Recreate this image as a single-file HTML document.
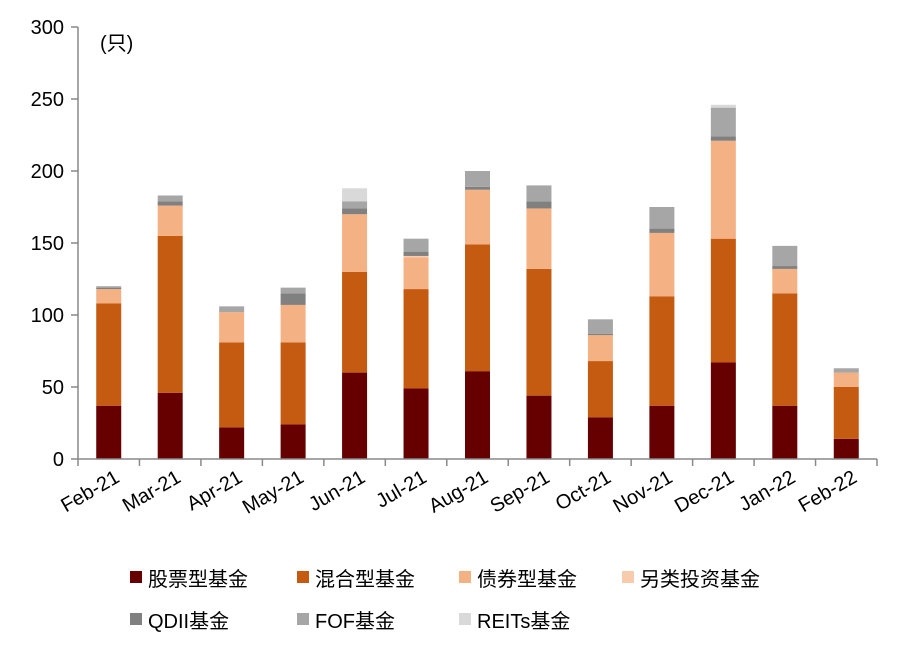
<!DOCTYPE html>
<html><head><meta charset="utf-8"><style>
body{margin:0;background:#fff;width:899px;height:652px;overflow:hidden}
svg text{font-family:"Liberation Sans","Noto Sans CJK SC",sans-serif;fill:#000}
</style></head><body>
<svg id="chart" width="899" height="652" xmlns="http://www.w3.org/2000/svg">
<text x="100" y="50" font-size="20">(只)</text>
<g id="bars"></g><g id="axes"></g><g id="legend"></g>
</svg>
<script>
const categories=["Feb-21","Mar-21","Apr-21","May-21","Jun-21","Jul-21","Aug-21","Sep-21","Oct-21","Nov-21","Dec-21","Jan-22","Feb-22"];
const stock=[37,46,22,24,60,49,61,44,29,37,67,37,14];
const mixed=[71,109,59,57,70,69,88,88,39,76,86,78,36];
const bond=[10,21,21,26,40,22,38,42,18,44,68,17,10];
const alt=[0,0,0,0,0,1,0,0,0,0,0,0,0];
const qdii=[1,3,0,8,4,3,2,5,1,3,3,2,0];
const fof=[1,4,4,4,5,9,11,11,10,15,20,14,3];
const reits=[0,0,0,0,9,0,0,0,0,0,2,0,0];
const yTicks=[0,50,100,150,200,250,300];
const seriesNames=["股票型基金","混合型基金","债券型基金","另类投资基金","QDII基金","FOF基金","REITs基金"];
const seriesData=[stock,mixed,bond,alt,qdii,fof,reits];
const colors=["#660000","#C55A11","#F4B183","#F8CBAD","#808080","#A6A6A6","#D9D9D9"];
const NS="http://www.w3.org/2000/svg";
const x0=78,x1=877,yBase=459,yTop=27,yMax=300;
const band=(x1-x0)/categories.length;
const y=v=>yBase-(v/yMax)*(yBase-yTop);
const xc=i=>x0+band*(i+0.5);
function mk(tag,attrs,parent){const e=document.createElementNS(NS,tag);for(const k in attrs)e.setAttribute(k,attrs[k]);parent.appendChild(e);return e;}
const bars=document.getElementById('bars'),axes=document.getElementById('axes'),legend=document.getElementById('legend');
categories.forEach((c,i)=>{let cum=0;
 seriesData.forEach((s,j)=>{const v=s[i];if(v<=0)return;
  const r=mk('rect',{x:xc(i)-12.5,y:y(cum+v),width:25,height:y(cum)-y(cum+v),fill:colors[j]},bars);
  
  
  cum+=v;});
});
const ya=mk('line',{x1:x0,y1:yTop,x2:x0,y2:yBase,stroke:'#898989','stroke-width':1.5},axes);

const xa=mk('line',{x1:x0,y1:yBase,x2:x1,y2:yBase,stroke:'#898989','stroke-width':1.5},axes);

yTicks.forEach(t=>{
 const l=mk('line',{x1:x0-7,y1:y(t),x2:x0,y2:y(t),stroke:'#898989','stroke-width':1.5},axes);
 
 const tx=mk('text',{x:x0-14,y:y(t)+7,'text-anchor':'end','font-size':20},axes);tx.textContent=t;
 
});
for(let i=0;i<=categories.length;i++){
 const l=mk('line',{x1:x0+band*i,y1:yBase,x2:x0+band*i,y2:yBase+7,stroke:'#898989','stroke-width':1.5},axes);
 
}
categories.forEach((c,i)=>{
 const tx=mk('text',{x:xc(i)+12,y:yBase+22,'text-anchor':'end','font-size':20,transform:`rotate(-30 ${xc(i)+12} ${yBase+22})`},axes);tx.textContent=c;
 
});
const lx=[130,297,459,622,130,297,459],ly=[578,578,578,578,620,620,620];
seriesNames.forEach((n,j)=>{
 const g=mk('g',{},legend);
 
 mk('rect',{x:lx[j],y:ly[j]-7,width:12,height:12,fill:colors[j]},g);
 const t=mk('text',{x:lx[j]+18,y:ly[j]+8,'font-size':20},g);t.textContent=n;
});
</script>
</body></html>
